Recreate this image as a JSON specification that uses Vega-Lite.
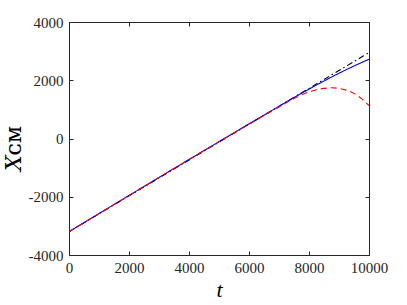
{
  "$schema": "https://vega.github.io/schema/vega-lite/v6.json",
  "width": 300,
  "height": 233,
  "autosize": "none",
  "padding": {"left": 69, "top": 22, "right": 38, "bottom": 50},
  "background": "white",
  "config": {
    "view": {"stroke": "#262626", "strokeWidth": 1},
    "font": "Liberation Serif"
  },
  "data": {
    "values": [
      {"t": 0, "x": -3200, "s": "a"},
      {"t": 2000, "x": -1970, "s": "a"},
      {"t": 4000, "x": -740, "s": "a"},
      {"t": 6000, "x": 490, "s": "a"},
      {"t": 8000, "x": 1720, "s": "a"},
      {"t": 10000, "x": 2950, "s": "a"},
      {"t": 0, "x": -3200, "s": "b"},
      {"t": 7000, "x": 1105, "s": "b"},
      {"t": 7500, "x": 1405, "s": "b"},
      {"t": 8000, "x": 1695, "s": "b"},
      {"t": 8500, "x": 1975, "s": "b"},
      {"t": 9000, "x": 2240, "s": "b"},
      {"t": 9500, "x": 2490, "s": "b"},
      {"t": 10000, "x": 2720, "s": "b"},
      {"t": 0, "x": -3200, "s": "c"},
      {"t": 6000, "x": 490, "s": "c"},
      {"t": 6500, "x": 790, "s": "c"},
      {"t": 7000, "x": 1080, "s": "c"},
      {"t": 7500, "x": 1370, "s": "c"},
      {"t": 8000, "x": 1600, "s": "c"},
      {"t": 8250, "x": 1675, "s": "c"},
      {"t": 8500, "x": 1720, "s": "c"},
      {"t": 8750, "x": 1740, "s": "c"},
      {"t": 9000, "x": 1720, "s": "c"},
      {"t": 9250, "x": 1660, "s": "c"},
      {"t": 9500, "x": 1550, "s": "c"},
      {"t": 9750, "x": 1370, "s": "c"},
      {"t": 10000, "x": 1130, "s": "c"}
    ]
  },
  "layer": [
    {
      "mark": {"type": "line", "strokeWidth": 1.1, "interpolate": "monotone", "clip": true},
      "encoding": {
        "x": {
          "field": "t", "type": "quantitative",
          "scale": {"domain": [0, 10000], "nice": false},
          "axis": {
            "orient": "bottom", "values": [0, 2000, 4000, 6000, 8000, 10000],
            "grid": false, "domain": false, "tickSize": -4, "tickColor": "#262626",
            "labelPadding": 9, "labelFontSize": 15, "labelColor": "#262626",
            "labelFont": "Liberation Serif", "labelFlush": false,
            "labelExpr": "'' + datum.value",
            "title": "t", "titleFont": "Liberation Serif", "titleFontStyle": "italic",
            "titleFontWeight": "normal", "titleFontSize": 22, "titleColor": "#000", "titlePadding": 4
          }
        },
        "y": {
          "field": "x", "type": "quantitative",
          "scale": {"domain": [-4000, 4000], "nice": false},
          "axis": {
            "orient": "left", "values": [-4000, -2000, 0, 2000, 4000],
            "grid": false, "domain": false, "tickSize": -4, "tickColor": "#262626",
            "labelPadding": 10, "labelFontSize": 15, "labelColor": "#262626",
            "labelFont": "Liberation Serif", "labelFlush": false,
            "labelExpr": "'' + datum.value",
            "title": "𝑋ᴄᴍ", "titleFont": "DejaVu Serif",
            "titleFontWeight": "normal", "titleFontSize": 22, "titleColor": "#000", "titlePadding": 3,
            "titleY": 126
          }
        },
        "color": {
          "field": "s", "type": "nominal", "legend": null,
          "scale": {"domain": ["a", "b", "c"], "range": ["#000000", "#0000ff", "#ff0000"]}
        },
        "strokeDash": {
          "field": "s", "type": "nominal", "legend": null,
          "scale": {"domain": ["a", "b", "c"], "range": [[6, 3, 1.5, 3], [1, 0], [6, 4]]}
        },
        "order": {"field": "t", "type": "quantitative"}
      }
    },
    {
      "mark": {"type": "line", "opacity": 0},
      "encoding": {
        "x": {
          "field": "t", "type": "quantitative",
          "scale": {"domain": [0, 10000], "nice": false},
          "axis": {"orient": "top", "values": [0, 2000, 4000, 6000, 8000, 10000], "grid": false, "domain": false, "labels": false, "tickSize": -4, "tickColor": "#262626", "title": null}
        },
        "y": {
          "field": "x", "type": "quantitative",
          "scale": {"domain": [-4000, 4000], "nice": false},
          "axis": {"orient": "right", "values": [-4000, -2000, 0, 2000, 4000], "grid": false, "domain": false, "labels": false, "tickSize": -4, "tickColor": "#262626", "title": null}
        },
        "detail": {"field": "s", "type": "nominal"}
      }
    }
  ],
  "resolve": {"axis": {"x": "independent", "y": "independent"}}
}
